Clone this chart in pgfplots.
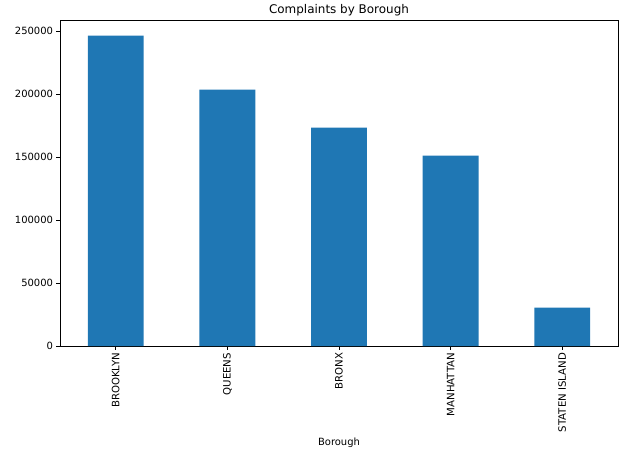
\documentclass[border=0pt]{standalone}
\usepackage{pgfplots}
\pgfplotsset{compat=1.18}
\usepackage{fontspec}
\setmainfont{DejaVu Sans}
\definecolor{tabblue}{HTML}{1F77B4}
\begin{document}
\begin{tikzpicture}
\useasboundingbox (-60bp,-105bp) rectangle (571bp,346bp);
\begin{axis}[
    at={(0,0)}, anchor=south west,
    scale only axis,
    width=558bp, height=326bp,
    xmin=-0.5, xmax=4.5,
    ymin=0, ymax=258700,
    ybar, bar width=0.5,
    xtick={0,1,2,3,4},
    xticklabels={BROOKLYN,QUEENS,BRONX,MANHATTAN,STATEN ISLAND},
    xticklabel style={rotate=90, anchor=east, font=\fontsize{10.2}{12}\selectfont},
    ytick={0,50000,100000,150000,200000,250000},
    yticklabel style={font=\fontsize{10}{12}\selectfont},
    scaled y ticks=false,
    /pgf/number format/.cd, fixed, 1000 sep={}, assume math mode=true,
    /pgfplots/.cd,
    tick align=outside,
    major tick length=3.5bp,
    tick style={black, line width=0.8bp},
    axis line style={black, line width=0.8bp},
    xtick pos=bottom, ytick pos=left,
    title={Complaints by Borough},
    title style={font=\fontsize{12}{14}\selectfont, yshift=-5bp},
    xlabel={Borough},
    xlabel style={font=\fontsize{10}{12}\selectfont, yshift=1bp},
]
\addplot[fill=tabblue, draw=none] coordinates {
  (0,246270) (1,203400) (2,173250) (3,151030) (4,30400)
};
\end{axis}
\end{tikzpicture}
\end{document}
